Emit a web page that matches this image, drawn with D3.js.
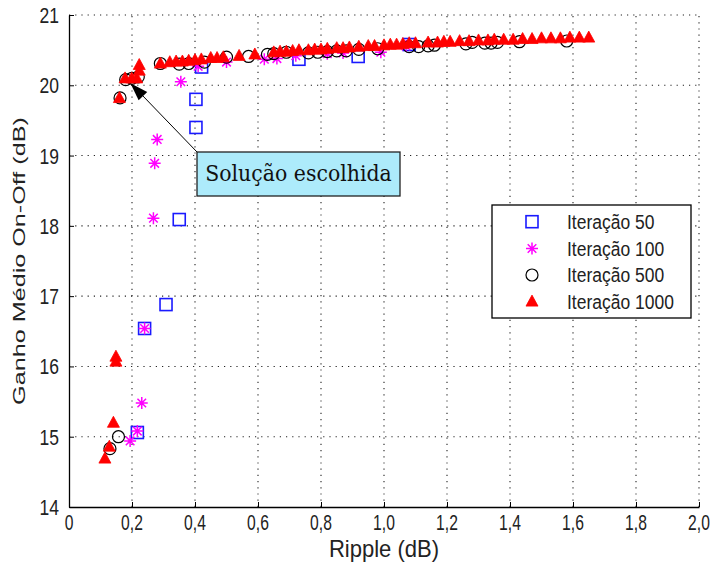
<!DOCTYPE html>
<html>
<head>
<meta charset="utf-8">
<script src="https://cdn.jsdelivr.net/npm/d3@7"></script>
<style>
  html, body { margin: 0; padding: 0; background: #fff; }
  svg { display: block; }
</style>
</head>
<body>
<svg id="chart" width="711" height="567"></svg>
<script>
// ---------- data ----------
const xTicks = [0, 0.2, 0.4, 0.6, 0.8, 1.0, 1.2, 1.4, 1.6, 1.8, 2.0];
const xTickLabels = ["0", "0,2", "0,4", "0,6", "0,8", "1,0", "1,2", "1,4", "1,6", "1,8", "2,0"];
const yTicks = [14, 15, 16, 17, 18, 19, 20, 21];
const yTickLabels = ["14", "15", "16", "17", "18", "19", "20", "21"];
const seriesNames = ["Iteração 50", "Iteração 100", "Iteração 500", "Iteração 1000"];

// Iteração 50 (blue squares)
const it50X = [0.217, 0.240, 0.308, 0.350, 0.403, 0.403, 0.421, 0.730, 0.918, 1.080];
const it50Y = [15.06, 16.54, 16.88, 18.09, 19.40, 19.80, 20.26, 20.37, 20.41, 20.58];

// Iteração 100 (magenta stars)
const it100X = [0.194, 0.217, 0.231, 0.240, 0.268, 0.272, 0.280, 0.355, 0.41, 0.50, 0.62, 0.66, 0.72, 0.82, 0.87, 0.99, 1.07];
const it100Y = [14.94, 15.08, 15.48, 16.54, 18.11, 18.89, 19.23, 20.05, 20.27, 20.33, 20.37, 20.38, 20.42, 20.45, 20.46, 20.47, 20.56];

// Iteração 500 (black circles)
const it500X = [0.130, 0.157, 0.162, 0.18, 0.20, 0.22, 0.29, 0.35, 0.38, 0.43, 0.50, 0.57, 0.63, 0.65, 0.69,
                0.76, 0.79, 0.82, 0.85, 0.88, 0.92, 0.98, 1.08, 1.11, 1.14, 1.16, 1.26, 1.28, 1.32, 1.34, 1.36, 1.43, 1.58];
const it500Y = [14.83, 15.00, 19.82, 20.08, 20.10, 20.12, 20.31, 20.30, 20.31, 20.33, 20.40, 20.41, 20.44, 20.45, 20.47,
                20.46, 20.47, 20.48, 20.49, 20.49, 20.51, 20.52, 20.55, 20.55, 20.56, 20.57, 20.59, 20.61, 20.60, 20.60, 20.61, 20.62, 20.63];

// Iteração 1000 (red triangles)
const it1000X = [0.114, 0.128, 0.141, 0.149, 0.149, 0.160, 0.178, 0.199, 0.215, 0.223, 0.223,
                 0.29, 0.32, 0.34, 0.36, 0.38, 0.40, 0.42, 0.45, 0.47, 0.49, 0.54, 0.59, 0.65, 0.67, 0.69, 0.71, 0.73,
                 0.76, 0.78, 0.80, 0.82, 0.85, 0.87, 0.89, 0.92, 0.95, 0.97, 1.00, 1.02, 1.04, 1.06, 1.08, 1.10,
                 1.14, 1.17, 1.19, 1.21, 1.24, 1.27, 1.30, 1.33, 1.35, 1.38, 1.41, 1.44, 1.47, 1.50, 1.53, 1.56, 1.59, 1.62, 1.65];
const it1000Y = [14.69, 14.86, 15.20, 16.14, 16.07, 19.82, 20.10, 20.10, 20.10, 20.21, 20.29,
                 20.31, 20.33, 20.34, 20.34, 20.35, 20.36, 20.37, 20.39, 20.39, 20.40, 20.42, 20.44, 20.47, 20.48, 20.48, 20.49, 20.50,
                 20.50, 20.51, 20.51, 20.52, 20.53, 20.53, 20.54, 20.55, 20.56, 20.56, 20.57, 20.58, 20.58, 20.59, 20.60, 20.60,
                 20.61, 20.61, 20.62, 20.62, 20.63, 20.63, 20.64, 20.64, 20.65, 20.65, 20.65, 20.66, 20.66, 20.67, 20.67, 20.67, 20.68, 20.68, 20.68];

// annotation
const annotText = "Solução escolhida";
const annotPoint = [0.195, 20.03];

// ---------- drawing ----------
const svg = d3.select("#chart");
const x = d3.scaleLinear().domain([0, 2]).range([69, 699]);
const y = d3.scaleLinear().domain([14, 21]).range([507, 15]);

const sansFont = "'Liberation Sans', Arial, sans-serif";

// text helper with independent horizontal / vertical stretch (reference glyphs are tall and narrow)
function sText(parent, str, tx, ty, size, sx, sy, anchor, rot, font, fill) {
  return parent.append("text")
    .attr("transform", `translate(${tx},${ty})${rot ? ` rotate(${rot})` : ""} scale(${sx},${sy})`)
    .attr("x", 0).attr("y", 0).attr("text-anchor", anchor || "start")
    .style("font-family", font || sansFont).style("font-size", size + "px")
    .attr("fill", fill || "#222").text(str);
}

// grid
const grid = svg.append("g").attr("stroke", "#222").attr("stroke-width", 1.1)
  .attr("stroke-dasharray", "1.2,5").attr("fill", "none");
grid.selectAll("line.v").data(xTicks.slice(1)).enter().append("line")
  .attr("x1", d => x(d)).attr("x2", d => x(d)).attr("y1", y(14)).attr("y2", y(21));
grid.selectAll("line.h").data(yTicks.slice(1)).enter().append("line")
  .attr("x1", x(0)).attr("x2", x(2)).attr("y1", d => y(d)).attr("y2", d => y(d));

// axes (lines + ticks through d3 axis, labels drawn with stretch helper)
const xAxis = d3.axisBottom(x).tickValues(xTicks).tickFormat("").tickSizeInner(-5).tickSizeOuter(0);
const yAxis = d3.axisLeft(y).tickValues(yTicks).tickFormat("").tickSizeInner(-5).tickSizeOuter(0);
const gx = svg.append("g").attr("transform", `translate(0,${y(14)})`).call(xAxis);
const gy = svg.append("g").attr("transform", `translate(${x(0)},0)`).call(yAxis);
[gx, gy].forEach(g => {
  g.select(".domain").attr("stroke", "#000").attr("stroke-width", 1.3);
  g.selectAll(".tick line").attr("stroke", "#000");
});
xTicks.forEach((v, i) => sText(svg, xTickLabels[i], x(v), 530, 16.5, 0.95, 1.35, "middle"));
yTicks.forEach((v, i) => sText(svg, yTickLabels[i], 59, y(v) + 8, 17.5, 1, 1.3, "end"));

// axis labels
sText(svg, "Ripple (dB)", 384, 557, 21, 1.05, 1.15, "middle");
sText(svg, "Ganho Médio On-Off (dB)", 25, y(17.5), 18, 1.4, 0.95, "middle", -90);

// marker drawers
const S = 12;
function drawSquare(g, cx, cy) {
  g.append("rect").attr("x", cx - S / 2).attr("y", cy - S / 2).attr("width", S).attr("height", S)
    .attr("fill", "none").attr("stroke", "#1a1aff").attr("stroke-width", 1.6);
}
function drawStar(g, cx, cy) {
  const r = 6, r2 = 4.3;
  const p = d3.path();
  p.moveTo(cx - r, cy); p.lineTo(cx + r, cy);
  p.moveTo(cx, cy - r); p.lineTo(cx, cy + r);
  p.moveTo(cx - r2, cy - r2); p.lineTo(cx + r2, cy + r2);
  p.moveTo(cx - r2, cy + r2); p.lineTo(cx + r2, cy - r2);
  g.append("path").attr("d", p.toString()).attr("stroke", "#ff00ff").attr("stroke-width", 1.5).attr("fill", "none");
}
function drawCircle(g, cx, cy) {
  g.append("circle").attr("cx", cx).attr("cy", cy).attr("r", 6)
    .attr("fill", "none").attr("stroke", "#000").attr("stroke-width", 1.2);
}
function drawTriangle(g, cx, cy) {
  const h = 11, w = 12;
  g.append("path").attr("d", `M${cx},${cy - h * 0.58}L${cx + w / 2},${cy + h * 0.42}L${cx - w / 2},${cy + h * 0.42}Z`)
    .attr("fill", "#ff0000").attr("stroke", "#ff0000").attr("stroke-width", 0.8);
}

const plot = svg.append("g");
const g50 = plot.append("g"), g100 = plot.append("g"), g500 = plot.append("g"), g1000 = plot.append("g");
it50X.forEach((v, i) => drawSquare(g50, x(v), y(it50Y[i])));
it100X.forEach((v, i) => drawStar(g100, x(v), y(it100Y[i])));
it500X.forEach((v, i) => drawCircle(g500, x(v), y(it500Y[i])));
it1000X.forEach((v, i) => drawTriangle(g1000, x(v), y(it1000Y[i])));

// annotation
const box = { x: 197, y: 152, w: 203, h: 44 };
const ax = x(annotPoint[0]), ay = y(annotPoint[1]);
svg.append("line").attr("x1", box.x).attr("y1", box.y).attr("x2", ax + 5).attr("y2", ay + 5)
  .attr("stroke", "#000").attr("stroke-width", 1);
(function arrowHead() {
  const ang = Math.atan2(box.y - ay, box.x - ax);
  const L = 18, W = 6;
  const bx = ax + L * Math.cos(ang), by = ay + L * Math.sin(ang);
  const px = -Math.sin(ang) * W, py = Math.cos(ang) * W;
  svg.append("path").attr("d", `M${ax},${ay}L${bx + px},${by + py}L${bx - px},${by - py}Z`).attr("fill", "#000");
})();
svg.append("rect").attr("x", box.x).attr("y", box.y).attr("width", box.w).attr("height", box.h)
  .attr("fill", "#adebfb").attr("stroke", "#222").attr("stroke-width", 1.3);
sText(svg, annotText, box.x + box.w / 2, 181, 19.5, 1.05, 1.15, "middle",
  0, "'DejaVu Serif', 'Liberation Serif', serif", "#111");

// legend
const leg = { x: 492, y: 205, w: 199, h: 113 };
const lg = svg.append("g");
lg.append("rect").attr("x", leg.x).attr("y", leg.y).attr("width", leg.w).attr("height", leg.h)
  .attr("fill", "#fff").attr("stroke", "#000").attr("stroke-width", 1.3);
const drawers = [drawSquare, drawStar, drawCircle, drawTriangle];
const rowY = [221.7, 248.5, 275, 301.5];
seriesNames.forEach((name, i) => {
  drawers[i](lg, 532, rowY[i]);
  sText(lg, name, 567, rowY[i] + 7, 17.5, 1, 1.15, "start");
});
</script>
</body>
</html>
